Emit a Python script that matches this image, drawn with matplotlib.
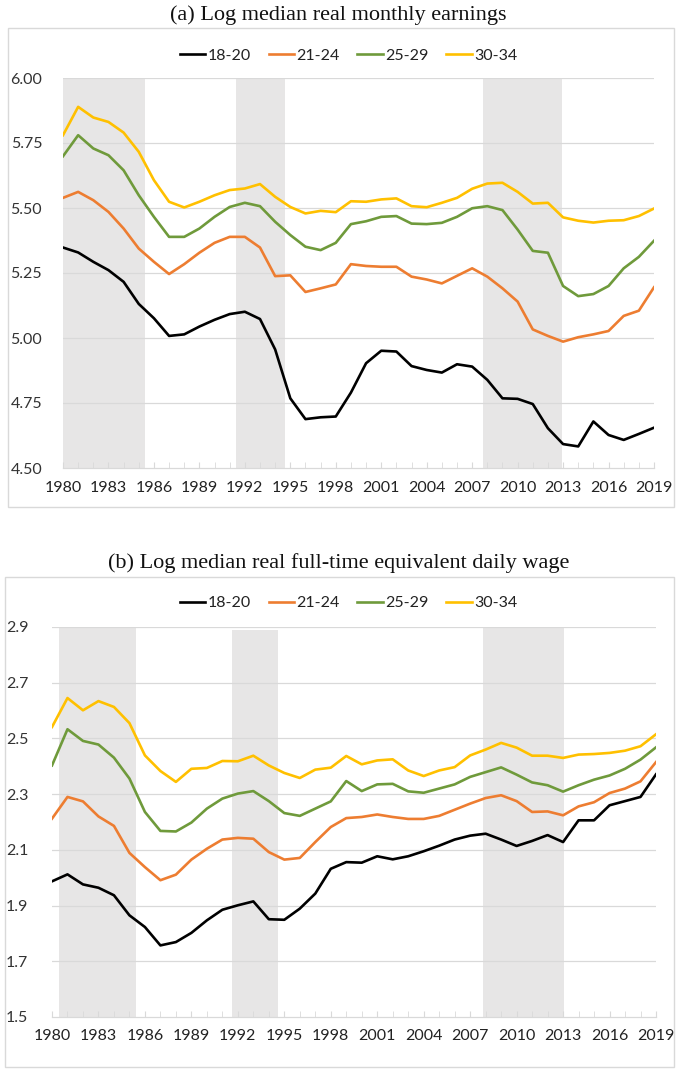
import matplotlib
matplotlib.use("Agg")
import matplotlib.pyplot as plt
from matplotlib.patches import Rectangle
import numpy as np

years = list(range(1980, 2020))
groups = ["18-20", "21-24", "25-29", "30-34"]
colors = ["#000000", "#ED7D31", "#6F9A3B", "#FFC000"]

# Panel (a): log median real monthly earnings
a_18_20 = [5.348, 5.329, 5.293, 5.261, 5.216, 5.131, 5.076, 5.008, 5.014, 5.044,
           5.070, 5.092, 5.101, 5.073, 4.956, 4.768, 4.688, 4.695, 4.698, 4.790,
           4.903, 4.951, 4.948, 4.892, 4.877, 4.867, 4.899, 4.890, 4.839, 4.768,
           4.766, 4.746, 4.653, 4.592, 4.583, 4.679, 4.627, 4.608, 4.631, 4.655]
a_21_24 = [5.539, 5.562, 5.530, 5.485, 5.421, 5.344, 5.293, 5.246, 5.284, 5.328,
           5.366, 5.389, 5.389, 5.348, 5.238, 5.241, 5.177, 5.191, 5.206, 5.284,
           5.277, 5.274, 5.274, 5.236, 5.225, 5.210, 5.239, 5.268, 5.236, 5.191,
           5.140, 5.033, 5.008, 4.986, 5.003, 5.014, 5.027, 5.085, 5.105, 5.195]
a_25_29 = [5.699, 5.780, 5.729, 5.703, 5.645, 5.549, 5.466, 5.389, 5.389, 5.421,
           5.466, 5.504, 5.520, 5.507, 5.447, 5.396, 5.351, 5.338, 5.366, 5.438,
           5.449, 5.466, 5.469, 5.440, 5.438, 5.443, 5.466, 5.499, 5.507, 5.492,
           5.417, 5.335, 5.328, 5.200, 5.161, 5.169, 5.200, 5.268, 5.312, 5.374]
a_30_34 = [5.780, 5.889, 5.848, 5.831, 5.790, 5.716, 5.607, 5.524, 5.502, 5.524,
           5.549, 5.569, 5.575, 5.592, 5.543, 5.504, 5.479, 5.489, 5.484, 5.526,
           5.524, 5.533, 5.537, 5.507, 5.503, 5.520, 5.539, 5.574, 5.594, 5.597,
           5.562, 5.517, 5.520, 5.464, 5.451, 5.444, 5.451, 5.453, 5.469, 5.498]

# Panel (b): log median real full-time equivalent daily wage
b_18_20 = [1.987, 2.012, 1.976, 1.964, 1.937, 1.865, 1.823, 1.757, 1.769, 1.802,
           1.847, 1.885, 1.901, 1.915, 1.851, 1.849, 1.889, 1.943, 2.032, 2.056,
           2.054, 2.077, 2.066, 2.077, 2.095, 2.115, 2.137, 2.151, 2.158, 2.137,
           2.114, 2.132, 2.153, 2.128, 2.206, 2.206, 2.260, 2.275, 2.290, 2.371]
b_21_24 = [2.212, 2.290, 2.274, 2.220, 2.186, 2.089, 2.038, 1.991, 2.011, 2.065,
           2.104, 2.137, 2.143, 2.140, 2.092, 2.065, 2.071, 2.128, 2.182, 2.214,
           2.218, 2.227, 2.218, 2.211, 2.211, 2.222, 2.244, 2.266, 2.286, 2.296,
           2.275, 2.236, 2.238, 2.224, 2.256, 2.271, 2.304, 2.320, 2.346, 2.415]
b_25_29 = [2.403, 2.533, 2.491, 2.478, 2.431, 2.356, 2.236, 2.168, 2.166, 2.198,
           2.248, 2.284, 2.302, 2.311, 2.275, 2.232, 2.222, 2.248, 2.274, 2.347,
           2.311, 2.335, 2.337, 2.310, 2.305, 2.320, 2.335, 2.362, 2.379, 2.396,
           2.370, 2.342, 2.332, 2.309, 2.332, 2.352, 2.367, 2.391, 2.424, 2.468]
b_30_34 = [2.541, 2.645, 2.601, 2.634, 2.613, 2.555, 2.439, 2.383, 2.344, 2.391,
           2.394, 2.419, 2.418, 2.438, 2.403, 2.376, 2.358, 2.388, 2.395, 2.437,
           2.407, 2.421, 2.425, 2.385, 2.365, 2.385, 2.397, 2.439, 2.460, 2.484,
           2.467, 2.438, 2.438, 2.430, 2.442, 2.444, 2.448, 2.456, 2.472, 2.515]

# Shaded recession periods (start, end) per panel
a_shades = [(1980.0, 1985.4), (1991.4, 1994.65), (2007.7, 2012.9)]
b_shades = [(1980.45, 1985.4), (1991.65, 1994.6), (2007.85, 2013.05)]

a_title = "(a) Log median real monthly earnings"
b_title = "(b) Log median real full-time equivalent daily wage"
a_yticks = [4.50, 4.75, 5.00, 5.25, 5.50, 5.75, 6.00]
b_yticks = [1.5, 1.7, 1.9, 2.1, 2.3, 2.5, 2.7, 2.9]
xtick_years = list(range(1980, 2020, 3))

W, H = 677, 1070
fig = plt.figure(figsize=(W / 100, H / 100), dpi=100)
plt.rcParams['font.family'] = ['Lato', 'DejaVu Sans']

def fx(px):
    return px / W

def fy(py):
    return 1 - py / H

# panel borders
for (x0, y0, x1, y1) in [(8, 28, 674, 507), (5, 577, 674, 1067)]:
    fig.patches.append(Rectangle((fx(x0), fy(y1)), fx(x1) - fx(x0), fy(y0) - fy(y1),
                                 transform=fig.transFigure, fill=False,
                                 edgecolor="#D9D9D9", linewidth=1.0))

FS = 11.5

def panel(rect, series, shades, yticks, fmt, title, title_y, legend_y, shade_tops, ylabel_pad):
    ax = fig.add_axes(rect)
    for (s, e), top in zip(shades, shade_tops):
        ax.axvspan(s, e, ymin=0, ymax=top, color="#E7E6E6", lw=0, zorder=0)
    for yt in yticks[1:]:
        ax.axhline(yt, color="#D9D9D9", lw=0.9, zorder=0.5)
    lines = []
    for vals, c, g in zip(series, colors, groups):
        l, = ax.plot(years, vals, color=c, lw=1.9, label=g, zorder=3,
                     solid_joinstyle="round")
        lines.append(l)
    ax.set_xlim(1980, 2019)
    ax.set_ylim(yticks[0], yticks[-1])
    ax.set_yticks(yticks)
    ax.set_yticklabels([fmt.format(v) for v in yticks])
    ax.set_xticks(xtick_years)
    ax.set_xticks(years, minor=True)
    ax.set_xticklabels([str(y) for y in xtick_years])
    for sp in ["top", "right", "left"]:
        ax.spines[sp].set_visible(False)
    ax.spines["bottom"].set_color("#D9D9D9")
    ax.spines["bottom"].set_linewidth(0.9)
    ax.tick_params(axis="y", length=0, pad=ylabel_pad, labelsize=FS, labelcolor="#333333")
    ax.tick_params(axis="x", which="both", direction="in", length=4, color="#D9D9D9",
                   pad=9, labelsize=FS, labelcolor="#222222")
    ax.patch.set_alpha(0)
    fig.text(0.5, title_y, title, ha="center", va="center",
             fontsize=16, family="Liberation Serif", color="#111111")
    fig.legend(handles=lines, loc="center", bbox_to_anchor=(0.515, legend_y), ncol=4,
               frameon=False, fontsize=FS, handlelength=1.6, handletextpad=0.15,
               columnspacing=1.1, labelcolor="#222222")
    return ax

panel([fx(63), fy(468), fx(654) - fx(63), fy(78) - fy(468)],
      [a_18_20, a_21_24, a_25_29, a_30_34], a_shades, a_yticks, "{:.2f}",
      a_title, fy(15), fy(56), [1, 1, 1], 15)

panel([fx(52), fy(1017), fx(656) - fx(52), fy(627) - fy(1017)],
      [b_18_20, b_21_24, b_25_29, b_30_34], b_shades, b_yticks, "{:.1f}",
      b_title, fy(563), fy(603), [1, 0.992, 1], 17)

fig.savefig("out.png", dpi=100, facecolor="white")
